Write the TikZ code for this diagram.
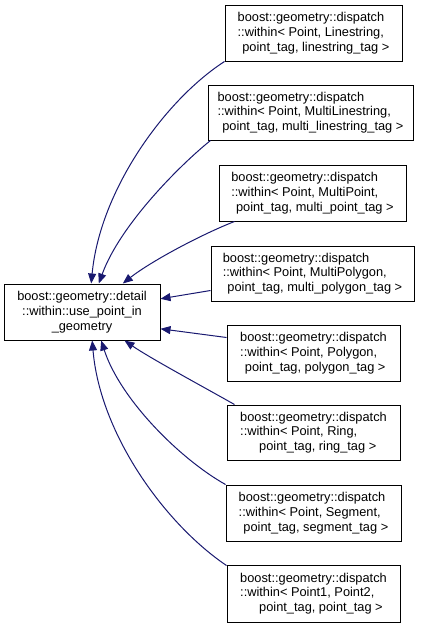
\documentclass[tikz,border=0pt]{standalone}
\usepackage{fontspec}
\setmainfont{Liberation Sans}
\usetikzlibrary{arrows.meta}
\definecolor{edgeblue}{HTML}{191970}
\tikzset{
  box/.style={draw=black, line width=1pt, fill=white, inner sep=0pt,
    font=\fontsize{12.8pt}{14.8pt}\selectfont, align=left},
  edge/.style={draw=edgeblue, line width=1pt,
    -{Triangle[length=10pt,width=8pt]}},
}
\begin{document}
\begin{tikzpicture}[x=1pt,y=-1pt]
\useasboundingbox (0,0) rectangle (424,627);
\node[box, align=center, minimum width=156pt, minimum height=56pt] (L) at (82,312)
  {boost::geometry::detail\\::within::use\_point\_in\\\_geometry};
\node[box, minimum width=177pt, minimum height=56pt] (b1) at (313.5,33)
  {boost::geometry::dispatch\\::within< Point, Linestring,\\\hspace*{4.7pt}point\_tag, linestring\_tag >};
\node[box, minimum width=205pt, minimum height=55pt] (b2) at (310.5,112.5)
  {boost::geometry::dispatch\\::within< Point, MultiLinestring,\\\hspace*{4.7pt}point\_tag, multi\_linestring\_tag >};
\node[box, minimum width=187pt, minimum height=56pt] (b3) at (312.5,193)
  {boost::geometry::dispatch\\::within< Point, MultiPoint,\\\hspace*{4.7pt}point\_tag, multi\_point\_tag >};
\node[box, minimum width=203pt, minimum height=55pt] (b4) at (312.5,273.5)
  {boost::geometry::dispatch\\::within< Point, MultiPolygon,\\\hspace*{4.7pt}point\_tag, multi\_polygon\_tag >};
\node[box, minimum width=173pt, minimum height=56pt] (b5) at (313.5,353)
  {boost::geometry::dispatch\\::within< Point, Polygon,\\\hspace*{4.7pt}point\_tag, polygon\_tag >};
\node[box, minimum width=173pt, minimum height=55pt] (b6) at (313.5,432.5)
  {boost::geometry::dispatch\\::within< Point, Ring,\\\hspace*{19pt}point\_tag, ring\_tag >};
\node[box, minimum width=175pt, minimum height=56pt] (b7) at (313.5,513)
  {boost::geometry::dispatch\\::within< Point, Segment,\\\hspace*{4.7pt}point\_tag, segment\_tag >};
\node[box, minimum width=173pt, minimum height=57pt] (b8) at (313.5,593.5)
  {boost::geometry::dispatch\\::within< Point1, Point2,\\\hspace*{19pt}point\_tag, point\_tag >};

\draw[edge] (b1.south west) .. controls (165,100) and (100,190) .. ([xshift=87.7pt]L.north west);
\draw[edge] ([xshift=3pt]b2.south west) .. controls (180,165) and (120,225) .. ([xshift=95.3pt]L.north west);
\draw[edge] ([xshift=16pt]b3.south west) .. controls (200,235) and (150,262) .. ([xshift=119.3pt]L.north west);
\draw[edge] ([yshift=11pt]b4.south west) -- ([yshift=-15.3pt]L.north east);
\draw[edge] ([yshift=-13pt]b5.north west) -- ([yshift=11.7pt]L.south east);
\draw[edge] ([xshift=8pt]b6.north west) .. controls (200,385) and (150,358) .. ([xshift=121pt]L.south west);
\draw[edge] (b7.north west) .. controls (180,459) and (120,399) .. ([xshift=97.7pt]L.south west);
\draw[edge] ([yshift=-1pt]b8.north west) .. controls (165,524) and (100,434) .. ([xshift=88.7pt]L.south west);
\end{tikzpicture}
\end{document}
